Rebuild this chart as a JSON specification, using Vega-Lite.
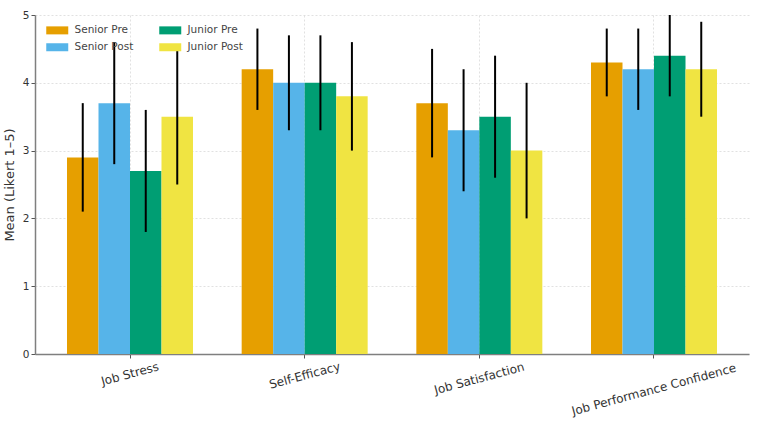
{
  "$schema": "https://vega.github.io/schema/vega-lite/v6.json",
  "autosize": {"type": "none"},
  "padding": {"left": 35, "top": 15, "right": 9, "bottom": 73},
  "width": 714,
  "height": 339,
  "background": "white",
  "config": {
    "font": "DejaVu Sans",
    "view": {"stroke": null},
    "axis": {
      "domainColor": "#7f7f7f",
      "domainWidth": 1.5,
      "tickColor": "#555555",
      "tickSize": 4,
      "tickWidth": 1,
      "labelColor": "#333333",
      "titleColor": "#333333",
      "titleFontWeight": "normal",
      "gridColor": "#d9d9d9",
      "gridDash": [2, 2],
      "gridWidth": 0.8
    }
  },
  "data": {
    "values": [
      {"measure": "Job Stress", "group": "Senior Pre", "mean": 2.9, "lo": 2.1, "hi": 3.7},
      {"measure": "Job Stress", "group": "Senior Post", "mean": 3.7, "lo": 2.8, "hi": 4.6},
      {"measure": "Job Stress", "group": "Junior Pre", "mean": 2.7, "lo": 1.8, "hi": 3.6},
      {"measure": "Job Stress", "group": "Junior Post", "mean": 3.5, "lo": 2.5, "hi": 4.5},
      {"measure": "Self-Efficacy", "group": "Senior Pre", "mean": 4.2, "lo": 3.6, "hi": 4.8},
      {"measure": "Self-Efficacy", "group": "Senior Post", "mean": 4.0, "lo": 3.3, "hi": 4.7},
      {"measure": "Self-Efficacy", "group": "Junior Pre", "mean": 4.0, "lo": 3.3, "hi": 4.7},
      {"measure": "Self-Efficacy", "group": "Junior Post", "mean": 3.8, "lo": 3.0, "hi": 4.6},
      {"measure": "Job Satisfaction", "group": "Senior Pre", "mean": 3.7, "lo": 2.9, "hi": 4.5},
      {"measure": "Job Satisfaction", "group": "Senior Post", "mean": 3.3, "lo": 2.4, "hi": 4.2},
      {"measure": "Job Satisfaction", "group": "Junior Pre", "mean": 3.5, "lo": 2.6, "hi": 4.4},
      {"measure": "Job Satisfaction", "group": "Junior Post", "mean": 3.0, "lo": 2.0, "hi": 4.0},
      {"measure": "Job Performance Confidence", "group": "Senior Pre", "mean": 4.3, "lo": 3.8, "hi": 4.8},
      {"measure": "Job Performance Confidence", "group": "Senior Post", "mean": 4.2, "lo": 3.6, "hi": 4.8},
      {"measure": "Job Performance Confidence", "group": "Junior Pre", "mean": 4.4, "lo": 3.8, "hi": 5.0},
      {"measure": "Job Performance Confidence", "group": "Junior Post", "mean": 4.2, "lo": 3.5, "hi": 4.9}
    ]
  },
  "encoding": {
    "x": {
      "field": "measure",
      "type": "nominal",
      "scale": {
        "domain": ["Job Stress", "Self-Efficacy", "Job Satisfaction", "Job Performance Confidence"],
        "paddingInner": 0.2786,
        "paddingOuter": 0.1832
      },
      "axis": {
        "title": null,
        "labelAngle": -15,
        "labelAlign": "center",
        "labelBaseline": "middle",
        "labelFontSize": 12,
        "labelLimit": 300,
        "bandPosition": 0.5,
        "grid": true,
        "labelPadding": {
          "condition": [
            {"test": "datum.value === 'Job Performance Confidence'", "value": 31},
            {"test": "datum.value === 'Job Satisfaction'", "value": 20},
            {"test": "datum.value === 'Self-Efficacy'", "value": 17}
          ],
          "value": 15.5
        }
      }
    },
    "xOffset": {
      "field": "group",
      "type": "nominal",
      "scale": {
        "domain": ["Senior Pre", "Senior Post", "Junior Pre", "Junior Post"],
        "paddingInner": 0,
        "paddingOuter": 0
      }
    }
  },
  "layer": [
    {
      "mark": {"type": "bar"},
      "encoding": {
        "y": {
          "field": "mean",
          "type": "quantitative",
          "scale": {"domain": [0, 5], "nice": false},
          "axis": {
            "title": "Mean (Likert 1–5)",
            "values": [0, 1, 2, 3, 4, 5],
            "format": "d",
            "labelFontSize": 10.5,
            "labelPadding": 2,
            "titleFontSize": 13,
            "titlePadding": 6,
            "grid": true
          }
        },
        "color": {
          "field": "group",
          "type": "nominal",
          "scale": {
            "domain": ["Senior Pre", "Senior Post", "Junior Pre", "Junior Post"],
            "range": ["#E69F00", "#56B4E9", "#009E73", "#F0E442"]
          },
          "legend": {
            "title": null,
            "orient": "none",
            "legendX": 17,
            "legendY": 10,
            "columns": 2,
            "padding": 0,
            "symbolType": "M-2.75,-1H2.75V1H-2.75Z",
            "symbolSize": 64,
            "symbolStrokeWidth": 0,
            "labelOffset": 12,
            "labelFontSize": 10.5,
            "labelColor": "#444444",
            "columnPadding": 25,
            "rowPadding": 6
          }
        }
      }
    },
    {
      "mark": {"type": "rule", "color": "black", "strokeWidth": 2},
      "encoding": {
        "y": {"field": "lo", "type": "quantitative"},
        "y2": {"field": "hi"}
      }
    }
  ]
}
